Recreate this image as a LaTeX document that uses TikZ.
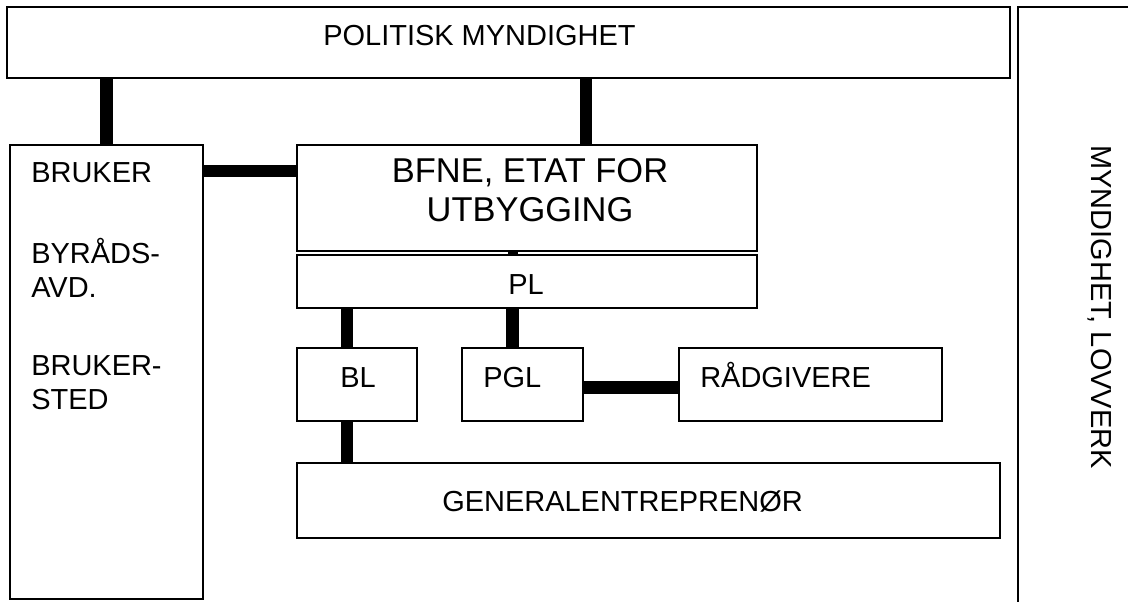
\documentclass[tikz,border=0pt]{standalone}
\usepackage{fontspec}
\setmainfont{Liberation Sans}
\usetikzlibrary{fit,calc}

\tikzset{
  box/.style={draw, line width=1.4pt, inner sep=0pt, fit={#1}},
  link/.style={line width=9.2pt},
  lbl/.style={anchor=base west, inner sep=0pt, font=\fontsize{20.6}{24}\selectfont},
}

\begin{document}
\begin{tikzpicture}[x=0.025cm, y=-0.025cm]
            \clip (0,0) rectangle (1128,601);
            \fill[white] (0,0) rectangle (1128,601);

            \node[box={(7,7) (1010,78)}](pol) {};
            \node[box={(10,145) (203,599)}](bruker) {};
            \node[box={(297,145) (757,251)}](bfne) {};
            \node[box={(297,255) (757,308)}](pl) {};
            \node[box={(297,348) (417,421)}](bl) {};
            \node[box={(462,348) (583,421)}](pgl) {};
            \node[box={(679,348) (942,421)}](rad) {};
            \node[box={(297,463) (1000,538)}](ge) {};
            \node[box={(1018,7) (1180,660)}](lov) {};

            \draw[link] (bruker.north |- pol.south) -- (bruker.north);
            \draw[link] ($(bfne.north)+(59,0)$) coordinate (b1) -- (b1 |- pol.south);
            \draw[link] ($(bfne.north west)+(0,27)$) coordinate (b2) -- (b2 -| bruker.east);
            \draw[line width=7.8pt] ($(bfne.south)+(-14,0)$) coordinate (b3) -- (b3 |- pl.north);
            \draw[link] ($(bl.north)+(-10,0)$) coordinate (b4) -- (b4 |- pl.south);
            \draw[link] ($(pgl.north)+(-10,0)$) coordinate (b5) -- (b5 |- pl.south);
            \draw[link] ($(bl.south)+(-10,0)$) coordinate (b6) -- (b6 |- ge.north);
            \draw[link] ($(pgl.east)+(0,3)$) coordinate (b7) -- (b7 -| rad.west);

            \node[lbl] at (323,45) {POLITISK MYNDIGHET};
            \node[lbl] at (31,182) {BRUKER};
            \node[lbl] at (31,263) {BYRÅDS-};
            \node[lbl] at (31,297) {AVD.};
            \node[lbl] at (31,375) {BRUKER-};
            \node[lbl] at (31,409) {STED};
            \node[align=center, inner sep=0pt, font=\fontsize{24.5}{27.7}\selectfont] at (530,190) {BFNE, ETAT FOR\\UTBYGGING};
            \node[lbl] at (508,294) {PL};
            \node[lbl] at (340,387) {BL};
            \node[lbl] at (483,387) {PGL};
            \node[lbl] at (700,387) {RÅDGIVERE};
            \node[lbl] at (442,511) {GENERALENTREPRENØR};
            \node[inner sep=0pt, rotate=-90, font=\fontsize{20.6}{24}\selectfont] at (1100,307) {MYNDIGHET, LOVVERK};
\end{tikzpicture}
\end{document}
